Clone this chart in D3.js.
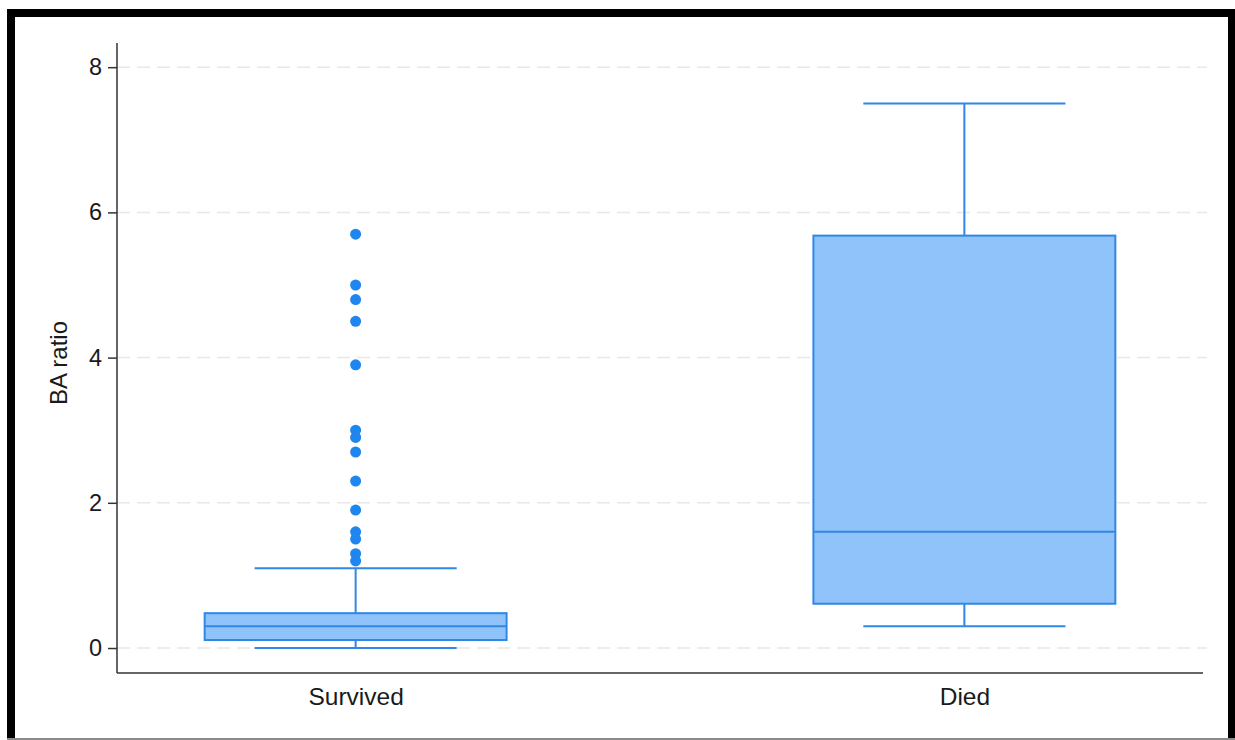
<!DOCTYPE html>
<html>
<head>
<meta charset="utf-8">
<script src="https://cdn.jsdelivr.net/npm/d3@7"></script>
<style>
  html, body { margin: 0; padding: 0; background: #fff; }
  svg { display: block; }
  text { font-family: "Liberation Sans", Arial, sans-serif; fill: #1a1a1a; }
</style>
</head>
<body>
<svg id="chart" width="1235" height="740"></svg>
<script>
// Box plot summaries of BA ratio by outcome
const categories   = ["Survived", "Died"];
const whiskerLow   = [0.0, 0.3];
const q1           = [0.11, 0.61];
const medians      = [0.3, 1.6];
const q3           = [0.48, 5.68];
const whiskerHigh  = [1.1, 7.5];
const outliers     = [
  [1.2, 1.3, 1.5, 1.6, 1.9, 2.3, 2.7, 2.9, 3.0, 3.9, 4.5, 4.8, 5.0, 5.7],
  []
];
const yTicks = [0, 2, 4, 6, 8];
const yLabel = "BA ratio";

const boxFill = "#90c3fa";
const boxStroke = "#2f87e6";
const dotColor = "#1f86f0";

const svg = d3.select("#chart");

// frame around the figure
svg.append("rect").attr("x", 0).attr("y", 0).attr("width", 1235).attr("height", 740).attr("fill", "#fff");
svg.append("rect").attr("x", 7).attr("y", 9).attr("width", 1228).attr("height", 8).attr("fill", "#000");
svg.append("rect").attr("x", 7).attr("y", 9).attr("width", 8).attr("height", 731).attr("fill", "#000");
svg.append("rect").attr("x", 1228).attr("y", 9).attr("width", 7).attr("height", 731).attr("fill", "#000");
svg.append("rect").attr("x", 7).attr("y", 738).attr("width", 1228).attr("height", 2).attr("fill", "#8a8a8a");

const plotLeft = 117, plotRight = 1203, plotTop = 43, plotBottom = 673;

const x = d3.scalePoint().domain(categories).range([plotLeft, plotRight]).padding(0.392);
const y = d3.scaleLinear().domain([-0.344, 8.333]).range([plotBottom, plotTop]);
const step = x.step();
const boxW = step * 0.496;
const capW = step * 0.332;

// dashed gridlines
svg.append("g").selectAll("line").data(yTicks).join("line")
  .attr("x1", plotLeft).attr("x2", 1207)
  .attr("y1", d => y(d)).attr("y2", d => y(d))
  .attr("stroke", "#e8e8e8").attr("stroke-width", 1.5)
  .attr("stroke-dasharray", "13,7");

// y axis
const yAxis = svg.append("g").attr("transform", `translate(${plotLeft},0)`)
  .call(d3.axisLeft(y).tickValues(yTicks).tickSize(9).tickPadding(6).tickFormat(d3.format("d")));
yAxis.select(".domain").attr("d", `M0,${plotTop}V${plotBottom}`).attr("stroke", "#333").attr("stroke-width", 1.5);
yAxis.selectAll(".tick line").attr("stroke", "#333").attr("stroke-width", 1.5);
yAxis.selectAll(".tick text").attr("font-size", 23.5).attr("fill", "#1a1a1a")
  .style("font-family", "'Liberation Sans', Arial, sans-serif");

// x axis
const xAxis = svg.append("g").attr("transform", `translate(0,${plotBottom})`)
  .call(d3.axisBottom(x).tickSize(0).tickPadding(15));
xAxis.select(".domain").attr("d", `M${plotLeft},0H${plotRight}`).attr("stroke", "#333").attr("stroke-width", 1.5);
xAxis.selectAll(".tick text").attr("font-size", 24.5).attr("fill", "#1a1a1a")
  .style("font-family", "'Liberation Sans', Arial, sans-serif");

// y axis title
svg.append("text")
  .attr("transform", `translate(67,${(plotTop + plotBottom) / 2 + 5}) rotate(-90)`)
  .attr("text-anchor", "middle")
  .attr("font-size", 24)
  .text(yLabel);

// boxes
const g = svg.append("g");
categories.forEach((c, i) => {
  const cx = x(c);
  const grp = g.append("g");
  // whisker stems
  grp.append("line").attr("x1", cx).attr("x2", cx).attr("y1", y(q3[i])).attr("y2", y(whiskerHigh[i]))
    .attr("stroke", boxStroke).attr("stroke-width", 2);
  grp.append("line").attr("x1", cx).attr("x2", cx).attr("y1", y(q1[i])).attr("y2", y(whiskerLow[i]))
    .attr("stroke", boxStroke).attr("stroke-width", 2);
  // caps
  [whiskerHigh[i], whiskerLow[i]].forEach(v => {
    grp.append("line").attr("x1", cx - capW / 2).attr("x2", cx + capW / 2)
      .attr("y1", y(v)).attr("y2", y(v))
      .attr("stroke", boxStroke).attr("stroke-width", 2);
  });
  // box
  grp.append("rect")
    .attr("x", cx - boxW / 2).attr("width", boxW)
    .attr("y", y(q3[i])).attr("height", y(q1[i]) - y(q3[i]))
    .attr("fill", boxFill).attr("stroke", boxStroke).attr("stroke-width", 2);
  // median
  grp.append("line").attr("x1", cx - boxW / 2).attr("x2", cx + boxW / 2)
    .attr("y1", y(medians[i])).attr("y2", y(medians[i]))
    .attr("stroke", boxStroke).attr("stroke-width", 2);
  // outliers
  grp.selectAll("circle").data(outliers[i]).join("circle")
    .attr("cx", cx).attr("cy", d => y(d)).attr("r", 5.5)
    .attr("fill", dotColor);
});
</script>
</body>
</html>
